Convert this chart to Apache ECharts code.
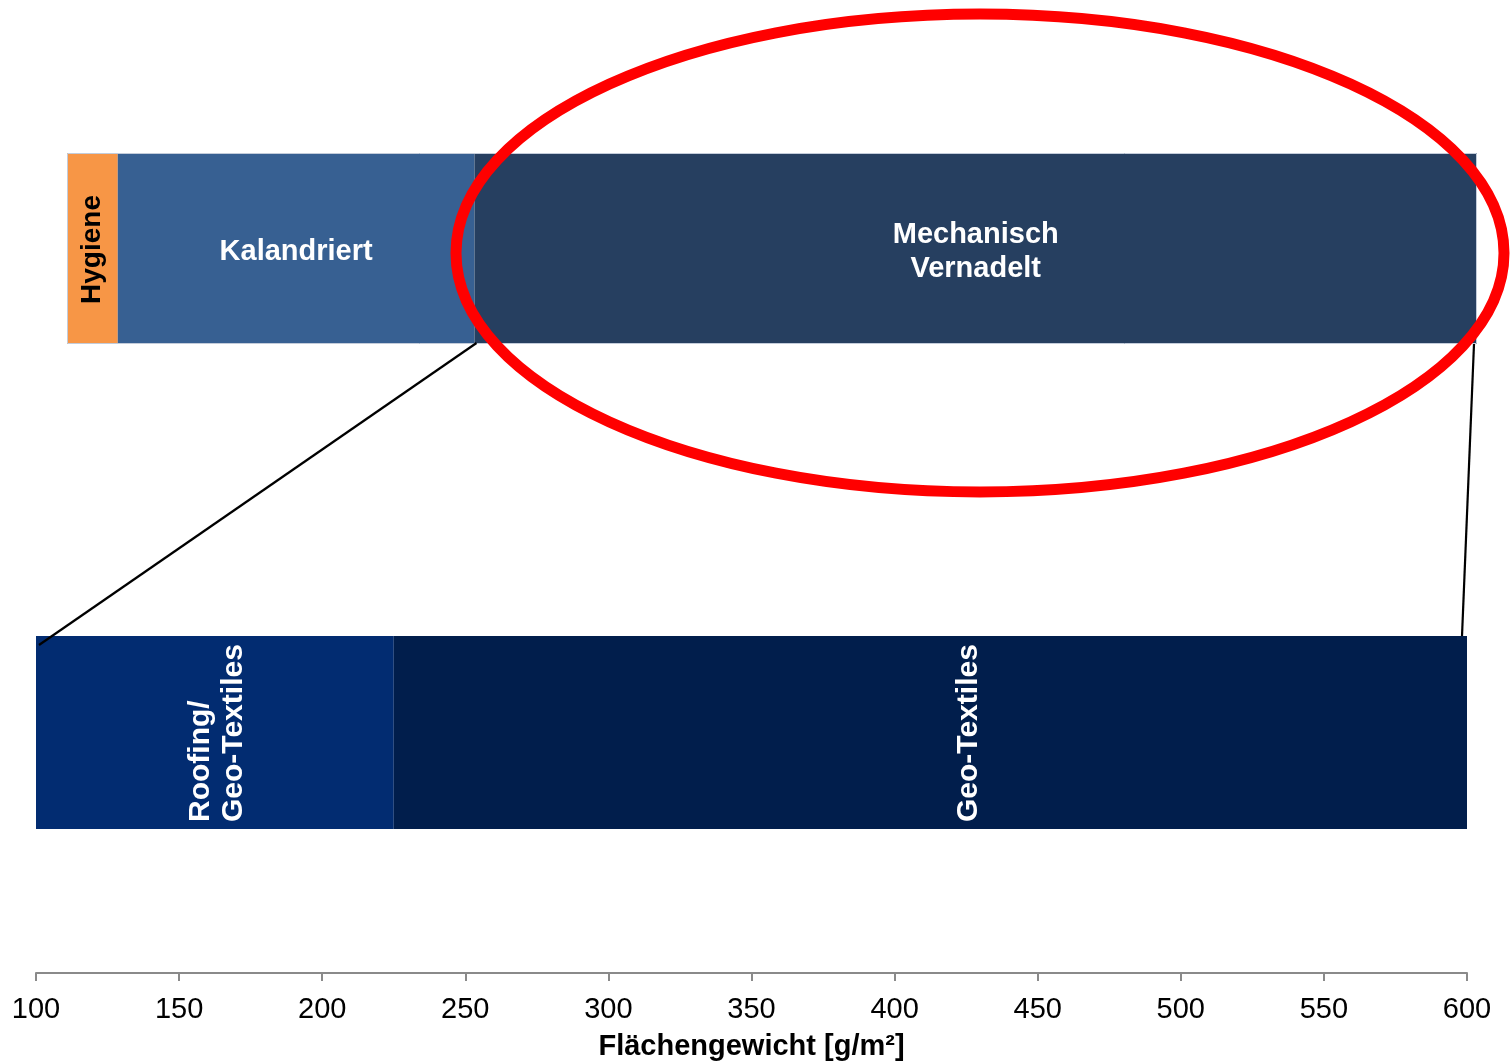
<!DOCTYPE html>
<html><head><meta charset="utf-8">
<script src="https://cdn.jsdelivr.net/npm/echarts@6.0.0/dist/echarts.min.js"></script>
<style>html,body{margin:0;padding:0;background:#fff}#c{width:1512px;height:1063px}</style>
</head><body><div id="c"></div>
<script>
// ---- Data ----
const overviewNames = ['Hygiene', 'Kalandriert', 'Mechanisch\nVernadelt'];
const overviewStart = [0, 3.6, 28.9];      // schematic overview scale (%)
const overviewEnd   = [3.6, 28.9, 100];
const detailNames = ['Roofing/\nGeo-Textiles', 'Geo-Textiles'];
const detailStart = [100, 225];            // g/m²
const detailEnd   = [225, 600];
const axisMin = 100, axisMax = 600, axisStep = 50;
const axisTitle = 'Flächengewicht [g/m²]';

// ---- Styles / layout ----
const FONT = '"Liberation Sans", Arial, Helvetica, sans-serif';
const overviewColors = ['#F79646', '#376092', '#263F60'];
const overviewTextColors = ['#000000', '#FFFFFF', '#FFFFFF'];
const overviewRotated = [true, false, false];
const overviewFontSize = [28, 29, 29];
const overviewDy = [1, 3, 3];
const detailColors = ['#022C71', '#011E4C'];
const detailLabelDx = [2, 38];
const TOP = {left: 67, right: 35, top: 153, height: 191};
const BOT = {left: 36, right: 45, top: 636, height: 193};

const chart = echarts.init(document.getElementById('c'), null, {renderer: 'canvas'});

function renderOverview(params, api) {
  const i = params.dataIndex;
  const a = api.coord([api.value(0), 0]);
  const b = api.coord([api.value(1), 0]);
  const h = api.size([0, 1])[1];
  const x0 = a[0], x1 = b[0], yc = a[1];
  return {
    type: 'group',
    children: [
      {type: 'rect', shape: {x: x0, y: yc - h / 2, width: x1 - x0, height: h}, style: {fill: overviewColors[i]}},
      {type: 'text', x: (x0 + x1) / 2, y: yc + overviewDy[i], rotation: overviewRotated[i] ? Math.PI / 2 : 0,
        style: {text: overviewNames[i], fill: overviewTextColors[i],
          font: 'bold ' + overviewFontSize[i] + 'px ' + FONT, align: 'center', verticalAlign: 'middle', lineHeight: 34}}
    ]
  };
}

function renderDetail(params, api) {
  const i = params.dataIndex;
  const a = api.coord([api.value(0), 0]);
  const b = api.coord([api.value(1), 0]);
  const h = api.size([0, 1])[1];
  const x0 = a[0], x1 = b[0], yc = a[1];
  return {
    type: 'group',
    children: [
      {type: 'rect', shape: {x: x0, y: yc - h / 2, width: x1 - x0, height: h}, style: {fill: detailColors[i]}},
      {type: 'text', x: (x0 + x1) / 2 + detailLabelDx[i], y: yc + h / 2 - 7, rotation: Math.PI / 2,
        style: {text: detailNames[i], fill: '#FFFFFF', font: 'bold 30px ' + FONT,
          align: 'left', verticalAlign: 'middle', lineHeight: 33}}
    ]
  };
}

const option = {
  animation: false,
  backgroundColor: '#FFFFFF',
  grid: [
    Object.assign({outerBoundsMode: 'none', containLabel: false}, TOP),
    Object.assign({outerBoundsMode: 'none', containLabel: false}, BOT)
  ],
  xAxis: [
    {gridIndex: 0, type: 'value', min: 0, max: 100, show: false},
    {gridIndex: 1, type: 'value', min: axisMin, max: axisMax, interval: axisStep,
      position: 'bottom', offset: 144,
      axisLine: {show: true, lineStyle: {color: '#8A8A8A', width: 2}},
      axisTick: {show: true, length: 8, lineStyle: {color: '#8A8A8A', width: 2}},
      axisLabel: {color: '#000', fontSize: 29, fontFamily: FONT, margin: 22},
      splitLine: {show: false},
      name: axisTitle, nameLocation: 'middle', nameGap: 59,
      nameTextStyle: {color: '#000', fontSize: 29, fontWeight: 'bold', fontFamily: FONT}}
  ],
  yAxis: [
    {gridIndex: 0, type: 'category', data: ['overview'], show: false},
    {gridIndex: 1, type: 'category', data: ['detail'], show: false}
  ],
  series: [
    {type: 'custom', xAxisIndex: 0, yAxisIndex: 0, renderItem: renderOverview,
      encode: {x: [0, 1], y: 2},
      data: overviewNames.map((n, i) => [overviewStart[i], overviewEnd[i], 0])},
    {type: 'custom', xAxisIndex: 1, yAxisIndex: 1, renderItem: renderDetail,
      encode: {x: [0, 1], y: 2},
      data: detailNames.map((n, i) => [detailStart[i], detailEnd[i], 0])}
  ]
};
chart.setOption(option);

// Annotations: connector lines, outline and red ellipse
const topStartPx = chart.convertToPixel({xAxisIndex: 0}, overviewStart[0]);
const mechStartPx = chart.convertToPixel({xAxisIndex: 0}, overviewStart[2]);
const mechEndPx = chart.convertToPixel({xAxisIndex: 0}, overviewEnd[2]);
const detMinPx = chart.convertToPixel({xAxisIndex: 1}, axisMin);
const detMaxPx = chart.convertToPixel({xAxisIndex: 1}, axisMax);
const topBottom = TOP.top + TOP.height;

chart.setOption({
  graphic: [
    {type: 'rect', z: 40, silent: true,
      shape: {x: topStartPx + 0.5, y: TOP.top + 0.5, width: mechEndPx - topStartPx - 1, height: TOP.height - 1},
      style: {fill: 'transparent', stroke: '#C3CCDA', lineWidth: 1}},
    {type: 'line', z: 50, silent: true,
      shape: {x1: mechStartPx + 2, y1: topBottom - 1, x2: detMinPx + 3, y2: BOT.top + 9},
      style: {stroke: '#000', lineWidth: 2.2}},
    {type: 'line', z: 50, silent: true,
      shape: {x1: mechEndPx - 3, y1: topBottom, x2: detMaxPx - 5, y2: BOT.top},
      style: {stroke: '#000', lineWidth: 2.2}},
    {type: 'ellipse', z: 100, silent: true,
      shape: {cx: 980, cy: 253, rx: 524, ry: 239},
      style: {fill: 'transparent', stroke: '#FF0000', lineWidth: 11}}
  ]
});
</script>
</body></html>
